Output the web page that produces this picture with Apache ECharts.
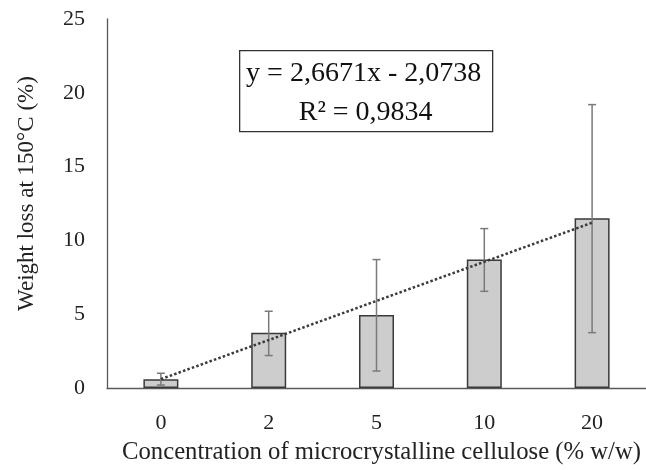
<!DOCTYPE html>
<html>
<head>
<meta charset="utf-8">
<script src="https://cdn.jsdelivr.net/npm/echarts@6/dist/echarts.min.js"></script>
<style>
  html, body { margin: 0; padding: 0; background: #fff; }
  #chart { width: 646px; height: 470px; }
</style>
</head>
<body>
<div id="chart"></div>
<script>
// categories = MCC concentration (% w/w)
const categories = ['0', '2', '5', '10', '20'];
const weightLoss = [0.6, 3.75, 4.95, 8.7, 11.5];
const errLow = [0.2, 2.2, 1.15, 6.55, 3.75];
const errHigh = [1.0, 5.2, 8.7, 10.8, 19.2];
// linear trendline ends, as drawn
const trendLine = [0.6, null, null, null, 11.2];
const yTicks = [0, 5, 10, 15, 20, 25];

const font = '"Liberation Serif", serif';

const chart = echarts.init(document.getElementById('chart'));

const option = {
    animation: false,
    backgroundColor: '#fff',
    grid: {
        left: 107,
        right: 0,
        top: 19,
        bottom: 82
    },
    xAxis: {
        type: 'category',
        data: categories,
        name: 'Concentration of microcrystalline cellulose (% w/w)',
        nameLocation: 'middle',
        nameGap: 52,
        nameTextStyle: { fontFamily: font, fontSize: 24.7, color: '#222', padding: [0, 0, 0, 10] },
        axisLine: { lineStyle: { color: '#595959', width: 1.3 } },
        axisTick: { show: false },
        axisLabel: { fontFamily: font, fontSize: 22, color: '#222', margin: 24 }
    },
    yAxis: {
        type: 'value',
        min: yTicks[0],
        max: yTicks[yTicks.length - 1],
        interval: 5,
        name: 'Weight loss at 150°C (%)',
        nameLocation: 'middle',
        nameGap: 69,
        nameTextStyle: { fontFamily: font, fontSize: 23, color: '#222', padding: [0, 0, 0, 20] },
        axisLine: { show: true, lineStyle: { color: '#595959', width: 1.3 } },
        axisTick: { show: false },
        splitLine: { show: false },
        axisLabel: { fontFamily: font, fontSize: 22, color: '#222', margin: 22 }
    },
    series: [
        {
            type: 'bar',
            data: weightLoss,
            barWidth: 35,
            itemStyle: { color: '#cdcdcd', borderColor: '#3a3a3a', borderWidth: 1.5 },
            z: 2
        },
        {
            type: 'custom',
            data: categories.map((c, i) => [i, errLow[i], errHigh[i]]),
            renderItem: (params, api) => {
                const lo = api.coord([api.value(0), api.value(1)]);
                const hi = api.coord([api.value(0), api.value(2)]);
                const hw = 4;
                const style = { stroke: '#7a7a7a', lineWidth: 1.5 };
                return {
                    type: 'group',
                    children: [
                        { type: 'line', shape: { x1: hi[0], y1: hi[1], x2: lo[0], y2: lo[1] }, style },
                        { type: 'line', shape: { x1: hi[0] - hw, y1: hi[1], x2: hi[0] + hw, y2: hi[1] }, style },
                        { type: 'line', shape: { x1: lo[0] - hw, y1: lo[1], x2: lo[0] + hw, y2: lo[1] }, style }
                    ]
                };
            },
            z: 3
        },
        {
            type: 'line',
            data: trendLine,
            connectNulls: true,
            symbol: 'none',
            lineStyle: { color: '#3a3a3a', width: 2.5, type: [2.5, 2.2] },
            z: 4
        }
    ],
    graphic: [
        {
            type: 'group',
            left: 239,
            top: 50,
            children: [
                {
                    type: 'rect',
                    shape: { x: 0, y: 0, width: 253, height: 81 },
                    style: { fill: '#fff', stroke: '#333', lineWidth: 1.3 }
                },
                {
                    type: 'text',
                    style: {
                        x: 124, y: 23, text: 'y = 2,6671x - 2,0738',
                        font: '28px ' + font, fill: '#111',
                        textAlign: 'center', textVerticalAlign: 'middle'
                    }
                },
                {
                    type: 'text',
                    style: {
                        x: 126, y: 62, text: 'R² = 0,9834',
                        font: '28px ' + font, fill: '#111',
                        textAlign: 'center', textVerticalAlign: 'middle'
                    }
                }
            ]
        }
    ]
};

chart.setOption(option);
</script>
</body>
</html>
